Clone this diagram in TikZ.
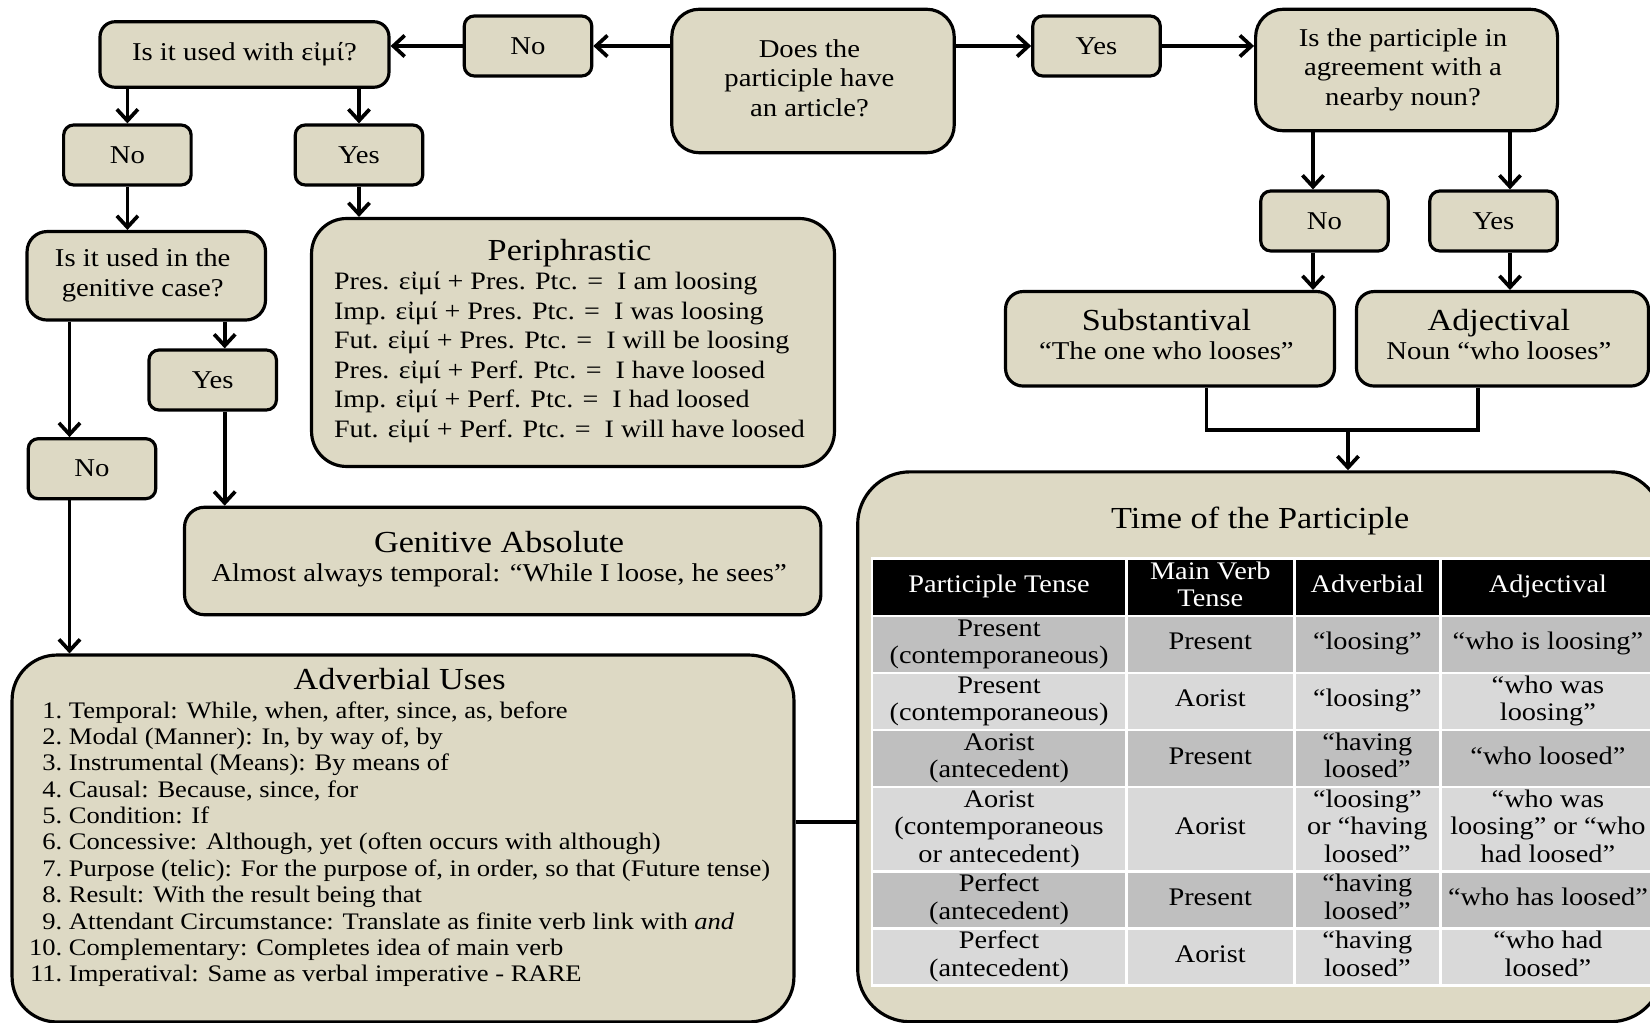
\documentclass[tikz,border=0pt]{standalone}
\usepackage{fontspec}
\setmainfont{Liberation Serif}[FakeStretch=1.12]
\usepackage[table]{xcolor}
\usepackage{array}
\usepackage{tikz}
\usetikzlibrary{arrows.meta, positioning, calc}

\definecolor{boxtan}{HTML}{DDD9C4}
\definecolor{rowdark}{HTML}{BFBFBF}
\definecolor{rowlight}{HTML}{D9D9D9}
\newcolumntype{C}[1]{>{\centering\arraybackslash}m{#1}}
\newcommand{\titlefont}{\fontsize{17.4}{19}\selectfont}

\begin{document}
\begin{tikzpicture}[x=0.02cm, y=-0.02cm,
    box/.style={rectangle, draw, line width=1.8pt, fill=boxtan, align=center,
        font=\fontsize{14.6}{16.8}\selectfont},
    ans/.style={box, rounded corners=0.2cm, minimum width=2.55cm, minimum height=1.2cm},
    arr/.style={line width=2.1pt, -{Straight Barb[length=6.5pt, width=12pt]}},
    link/.style={line width=2.1pt}
]
\useasboundingbox (0,0) rectangle (1650,1023);
\clip (0,0) rectangle (1650,1023);

% first question and its answers
\node[box, rounded corners=0.55cm, minimum width=5.65cm, minimum height=2.87cm] (art) at (813,81) {
    \begin{tabular}{c}
        Does the \\
        participle have \\
        an article?
    \end{tabular}
};
\node[ans] (noTop) at (528,46) {No};
\node[ans] (yesTop) at (1096.5,46) {Yes};
\node[box, rounded corners=0.3cm, minimum width=5.78cm, minimum height=1.31cm] (eimi) at (244.5,54.5) {Is it used with εἰμί?};
\node[box, rounded corners=0.55cm, minimum width=6.04cm, minimum height=2.43cm] (agree) at (1406.6,70) {
    \begin{tabular}{c}
        Is the participle in \\
        agreement with a \\
        nearby noun?
    \end{tabular}
};

% left branch
\node[ans] (noEimi) at (127.4,155) {No};
\node[ans] (yesEimi) at (359,155) {Yes};
\node[box, rounded corners=0.4cm, minimum width=4.77cm, minimum height=1.77cm] (gen) at (146.3,275.8) {
    \begin{tabular}{c}
        Is it used in the \\
        genitive case?
    \end{tabular}
};
\node[box, rounded corners=0.7cm, minimum width=10.46cm, minimum height=4.96cm] (peri) at (573,342.5) {
    \fontsize{14.25}{16.8}\selectfont
    \begin{tabular}{@{}l@{}}
        \multicolumn{1}{c}{\titlefont Periphrastic} \\
        Pres. εἰμί + Pres. Ptc. =~ I am loosing \\
        Imp. εἰμί + Pres. Ptc. =~ I was loosing \\
        Fut. εἰμί + Pres. Ptc. =~ I will be loosing \\
        Pres. εἰμί + Perf. Ptc. =~ I have loosed \\
        Imp. εἰμί + Perf. Ptc. =~ I had loosed \\
        Fut. εἰμί + Perf. Ptc. =~ I will have loosed
    \end{tabular}
};
\node[ans] (yesGen) at (212.7,380) {Yes};
\node[ans] (noGen) at (92,468.7) {No};
\node[box, rounded corners=0.4cm, minimum width=12.73cm, minimum height=2.15cm] (genabs) at (502.7,561) {
    \begin{tabular}{c}
        {\titlefont Genitive Absolute} \\
        Almost always temporal: “While I loose, he sees”
    \end{tabular}
};
\node[box, rounded corners=0.9cm, minimum width=15.64cm, minimum height=7.34cm] (adv) at (403,838.5) {
    \fontsize{13.5}{15}\selectfont
    \begin{tabular}{@{}r@{\ }l@{}}
        \multicolumn{2}{c}{\titlefont Adverbial Uses} \\[1.5pt]
        1. & Temporal: While, when, after, since, as, before \\
        2. & Modal (Manner): In, by way of, by \\
        3. & Instrumental (Means): By means of \\
        4. & Causal: Because, since, for \\
        5. & Condition: If \\
        6. & Concessive: Although, yet (often occurs with although) \\
        7. & Purpose (telic): For the purpose of, in order, so that (Future tense) \\
        8. & Result: With the result being that \\
        9. & Attendant Circumstance: Translate as finite verb link with \textit{and} \\
        10. & Complementary: Completes idea of main verb \\
        11. & Imperatival: Same as verbal imperative - RARE \\[11pt]
    \end{tabular}
};

% right branch
\node[ans] (noAgree) at (1324.5,221) {No};
\node[ans] (yesAgree) at (1493.5,221) {Yes};
\node[box, rounded corners=0.35cm, minimum width=6.58cm, minimum height=1.89cm] (subst) at (1170,338.8) {
    \begin{tabular}{c}
        {\titlefont Substantival} \\
        “The one who looses”
    \end{tabular}
};
\node[box, rounded corners=0.35cm, minimum width=5.84cm, minimum height=1.89cm] (adjc) at (1502.5,338.8) {
    \begin{tabular}{c}
        {\titlefont Adjectival} \\
        Noun “who looses”
    \end{tabular}
};
\node[box, rounded corners=1.05cm, minimum width=16.09cm, minimum height=11cm] (time) at (1260.2,746.8) {
    {\titlefont Time of the Participle} \\[12pt]
    {\fontsize{14.4}{15.5}\selectfont
    \setlength{\tabcolsep}{0pt}\setlength{\arrayrulewidth}{1.5pt}\arrayrulecolor{white}
    \begin{tabular}{|C{143.2pt}|C{94.2pt}|C{81.6pt}|C{121pt}|}
        \hline
        \rowcolor{black}\color{white}Participle Tense & \color{white}Main Verb\par Tense & \color{white}Adverbial & \color{white}Adjectival \\[2pt] \hline
        \rowcolor{rowdark} Present\par (contemporaneous) & Present & “loosing” & “who is loosing” \\ \hline
        \rowcolor{rowlight} Present\par (contemporaneous) & Aorist & “loosing” & “who was\par loosing” \\ \hline
        \rowcolor{rowdark} Aorist\par (antecedent) & Present & “having\par loosed” & “who loosed” \\ \hline
        \rowcolor{rowlight} Aorist\par (contemporaneous\par or antecedent) & Aorist & “loosing”\par or “having\par loosed” & “who was\par loosing” or “who\par had loosed” \\ \hline
        \rowcolor{rowdark} Perfect\par (antecedent) & Present & “having\par loosed” & “who has loosed” \\ \hline
        \rowcolor{rowlight} Perfect\par (antecedent) & Aorist & “having\par loosed” & “who had\par loosed” \\ \hline
    \end{tabular}}
};

% connectors, top row
\draw[arr] (art.west |- noTop) -- (noTop);
\draw[arr] (noTop) -- (noTop -| eimi.east);
\draw[arr] (art.east |- yesTop) -- (yesTop);
\draw[arr] (yesTop) -- (yesTop -| agree.west);

% connectors, left branch
\draw[arr] (eimi.south -| noEimi) -- (noEimi);
\draw[arr] (eimi.south -| yesEimi) -- (yesEimi);
\draw[arr] (noEimi) -- (noEimi |- gen.north);
\draw[arr] (yesEimi) -- (yesEimi |- peri.north);
\draw[arr] ([xshift=.24cm]yesGen.north |- gen.south) -- ([xshift=.24cm]yesGen.north);
\draw[arr] ([xshift=.24cm]yesGen.south) -- ([xshift=.24cm]yesGen.south |- genabs.north);
\draw[arr] ([xshift=-.45cm]noGen.north |- gen.south) -- ([xshift=-.45cm]noGen.north);
\draw[arr] ([xshift=-.45cm]noGen.south) -- ([xshift=-.45cm]noGen.south |- adv.north);

% connectors, right branch
\draw[arr] ([xshift=-.23cm]noAgree.north |- agree.south) -- ([xshift=-.23cm]noAgree.north);
\draw[arr] ([xshift=.33cm]yesAgree.north |- agree.south) -- ([xshift=.33cm]yesAgree.north);
\draw[arr] ([xshift=-.23cm]noAgree.south) -- ([xshift=-.23cm]noAgree.south |- subst.north);
\draw[arr] ([xshift=.33cm]yesAgree.south) -- ([xshift=.33cm]yesAgree.south |- adjc.north);
\coordinate (merge) at (1348,430);
\draw[link] ([xshift=.73cm]subst.south) |- (merge) -| ([xshift=-.49cm]adjc.south);
\draw[arr] (merge) -- (merge |- time.north);

% adverbial uses to time table
\draw[link] ([yshift=.33cm]adv.east) -- ([yshift=.33cm]adv.east -| time.west);
\end{tikzpicture}
\end{document}
